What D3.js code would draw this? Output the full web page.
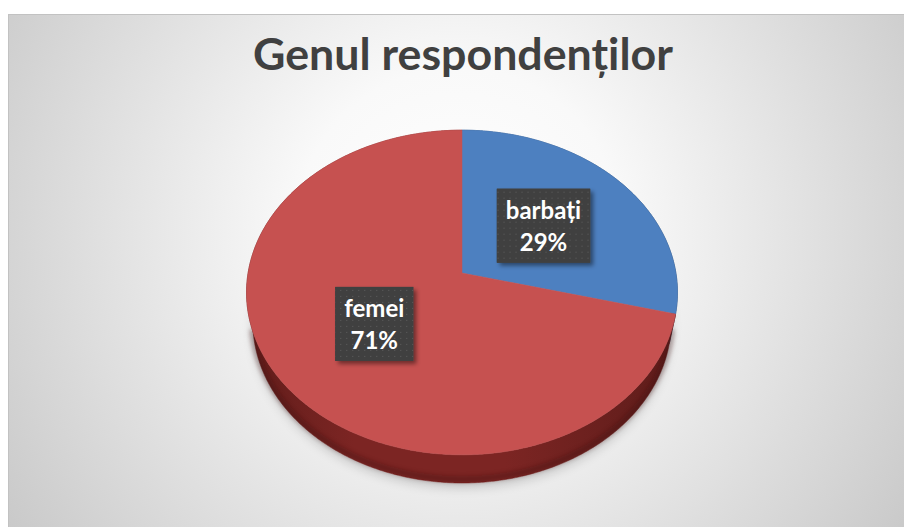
<!DOCTYPE html>
<meta charset="utf-8">
<head>
<title>Genul respondenților</title>
<script src="https://d3js.org/d3.v7.min.js"></script>
<style>
body { margin: 0; background: #fff; }
svg { display: block; }
.title {
    font-family: Lato, "Open Sans", sans-serif;
    font-weight: bold;
    fill: #404040;
}
.lbl {
    font-family: Lato, "Open Sans", sans-serif;
    font-weight: bold;
    fill: #fff;
    font-size: 24px;
}
</style>
</head>
<body>
<script>
// data
const categories = ["barbați", "femei"];
const values = [29, 71];
const percentLabels = ["29%", "71%"];
const colors = ["#4d80c0", "#c65150"];
const sideColors = ["#2c4f7e", "#7c2523"];
const title = "Genul respondenților";

const width = 904, height = 527;

// 3d view of the disk (perspective)
const cx = 462, cy = 273;
const f = 1183, D = 5.53;
const sinE = 0.748, cosE = Math.sqrt(1 - sinE * sinE);
const thick = 0.218;

function project(r, phi, h) {
    const u = r * Math.sin(phi), v = r * Math.cos(phi);
    const up = v * sinE - h * cosE;
    const depth = D + v * cosE + h * sinE;
    return [cx + f * u / depth, cy - f * up / depth, depth];
}

const svg = d3.select("body").append("svg")
    .attr("width", width)
    .attr("height", height);

const defs = svg.append("defs");

const bg = defs.append("radialGradient")
    .attr("id", "bg")
    .attr("gradientUnits", "userSpaceOnUse")
    .attr("cx", 458).attr("cy", 230).attr("r", 540);
bg.append("stop").attr("offset", 0).attr("stop-color", "#ffffff");
bg.append("stop").attr("offset", 0.3).attr("stop-color", "#f9f9f9");
bg.append("stop").attr("offset", 1).attr("stop-color", "#c9c9c9");

const blur = defs.append("filter").attr("id", "blur")
    .attr("x", "-20%").attr("y", "-20%").attr("width", "140%").attr("height", "140%");
blur.append("feGaussianBlur").attr("stdDeviation", 6);

const soft = defs.append("filter").attr("id", "soft")
    .attr("x", "-10%").attr("y", "-50%").attr("width", "120%").attr("height", "200%");
soft.append("feGaussianBlur").attr("stdDeviation", 2);

const shadow = defs.append("filter").attr("id", "boxShadow")
    .attr("x", "-20%").attr("y", "-20%").attr("width", "150%").attr("height", "150%");
shadow.append("feDropShadow")
    .attr("dx", 3).attr("dy", 3).attr("stdDeviation", 2)
    .attr("flood-color", "#000").attr("flood-opacity", 0.45);

const dots = defs.append("pattern")
    .attr("id", "dots")
    .attr("patternUnits", "userSpaceOnUse")
    .attr("width", 6).attr("height", 6);
dots.append("rect").attr("width", 6).attr("height", 6).attr("fill", "#404040");
dots.append("rect").attr("x", 2).attr("y", 2).attr("width", 1).attr("height", 1).attr("fill", "#5e5e5e");

// side shading: darker toward the left and right ends
sideColors.forEach((c, i) => {
    const g = defs.append("linearGradient")
        .attr("id", "side" + i)
        .attr("gradientUnits", "userSpaceOnUse")
        .attr("x1", cx - 216).attr("x2", cx + 216)
        .attr("y1", 0).attr("y2", 0);
    const base = d3.color(c);
    g.append("stop").attr("offset", 0).attr("stop-color", base.darker(0.7).formatHex());
    g.append("stop").attr("offset", 0.25).attr("stop-color", base.formatHex());
    g.append("stop").attr("offset", 0.6).attr("stop-color", base.formatHex());
    g.append("stop").attr("offset", 1).attr("stop-color", base.darker(0.8).formatHex());
});

// background panel
svg.append("rect")
    .attr("x", 8.5).attr("y", 14.5)
    .attr("width", width).attr("height", height)
    .attr("fill", "url(#bg)")
    .attr("stroke", "#c2c2c2");

// title
const titleText = svg.append("text")
    .attr("class", "title")
    .attr("x", 463).attr("y", 70)
    .attr("text-anchor", "middle")
    .style("font-size", "38px")
    .text(title);
const tw = titleText.node().getComputedTextLength();
titleText.style("font-size", (38 * 420 / tw) + "px");

const pie = d3.pie().sort(null).value(d => d)(values);
const line = d3.line();
const step = Math.PI / 360;

function rim(a0, a1, r, h) {
    const pts = [];
    const n = Math.max(2, Math.ceil((a1 - a0) / step));
    for (let i = 0; i <= n; i++) {
        const p = project(r, a0 + (a1 - a0) * i / n, h);
        pts.push([p[0], p[1]]);
    }
    return pts;
}

// soft shadow below the pie
svg.append("path")
    .attr("d", line(rim(0, 2 * Math.PI, 1.0, thick + 0.03)) + "Z")
    .attr("fill", "#000")
    .attr("opacity", 0.2)
    .attr("filter", "url(#blur)");

// side wall, one band per slice
const walls = svg.append("g");
pie.forEach((s, i) => {
    const pts = rim(s.startAngle, s.endAngle, 1, 0)
        .concat(rim(s.startAngle, s.endAngle, 1, thick).reverse());
    walls.append("path")
        .attr("d", line(pts) + "Z")
        .attr("fill", "url(#side" + i + ")")
        .attr("stroke", "url(#side" + i + ")")
        .attr("stroke-width", 0.5);
});

// darker lower edge of the wall
svg.append("path")
    .attr("d", line(rim(Math.PI * 0.56, Math.PI * 1.44, 1, thick - 0.03)))
    .attr("fill", "none")
    .attr("stroke", "#3a0c0c")
    .attr("stroke-width", 6)
    .attr("opacity", 0.35)
    .attr("filter", "url(#soft)");

// top face
svg.append("g").selectAll("path")
    .data(pie)
    .join("path")
    .attr("d", d => {
        const c = project(0, 0, 0);
        return line([[c[0], c[1]], ...rim(d.startAngle, d.endAngle, 1, 0)]) + "Z";
    })
    .attr("fill", (d, i) => colors[i])
    .attr("stroke", (d, i) => colors[i])
    .attr("stroke-width", 0.5);

// data labels
const labels = svg.append("g").selectAll("g")
    .data(pie)
    .join("g")
    .attr("transform", d => {
        const p = project(0.5, (d.startAngle + d.endAngle) / 2, 0);
        return `translate(${p[0]},${p[1]})`;
    });

labels.each(function(d, i) {
    const g = d3.select(this);
    const box = g.append("rect").attr("filter", "url(#boxShadow)").attr("fill", "#404040");
    const boxTex = g.append("rect").attr("fill", "url(#dots)");
    const t1 = g.append("text").attr("class", "lbl")
        .attr("text-anchor", "middle").attr("y", -7).text(categories[i]);
    const t2 = g.append("text").attr("class", "lbl")
        .attr("text-anchor", "middle").attr("y", 25).text(percentLabels[i]);
    const w = Math.max(t1.node().getComputedTextLength(), t2.node().getComputedTextLength()) + 18;
    [box, boxTex].forEach(r => r
        .attr("x", -w / 2).attr("y", -37)
        .attr("width", w).attr("height", 74));
});
</script>
</body>
</html>
